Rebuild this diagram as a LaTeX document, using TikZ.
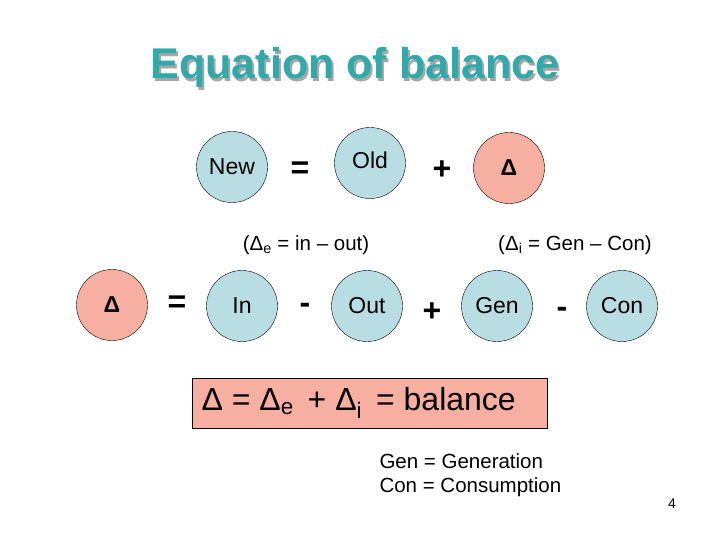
\documentclass[tikz,border=0pt]{standalone}
\usepackage{fontspec}
\setmainfont{Liberation Sans}
\begin{document}
\begin{tikzpicture}[x=1pt,y=-1pt,
  blue/.style={circle,draw=black,fill=cb,minimum size=71pt,inner sep=0pt,font=\fontsize{23}{25}\selectfont},
  pink/.style={circle,draw=black,fill=cp,minimum size=71pt,inner sep=0pt,font=\fontsize{23}{25}\selectfont},
  op/.style={font=\bfseries\fontsize{32}{34}\selectfont},
  lbl/.style={font=\fontsize{20.5}{23}\selectfont}]
\definecolor{cb}{HTML}{B8DDE2}
\definecolor{cp}{HTML}{F7AFA2}
\definecolor{tt}{HTML}{2FA9A9}
\useasboundingbox (0,0) rectangle (720,540);
\node[text=gray!70,font=\bfseries\fontsize{43}{46}\selectfont] (ts) at (357,70) {Equation of balance};
\node[text=tt,font=\bfseries\fontsize{43}{46}\selectfont] (t) at (355,67) {Equation of balance};
\node[blue] (new) at (232,167) {New};
\node[op] (eq1) at (300,170) {=};
\node[blue] (old) at (370,163) {Old\vphantom{p}};
\node[op] (pl1) at (442,170) {+};
\node[pink] (d1) at (509,168) {\textbf{Δ}};
\node[lbl] (le) at (306,245) {(Δ\textsubscript{e} = in – out)};
\node[lbl] (li) at (575,245) {(Δ\textsubscript{i} = Gen – Con)};
\node[pink] (d2) at (112,305) {\textbf{Δ}};
\node[op] (eq2) at (177,304) {=};
\node[blue] (in) at (242,306) {In};
\node[op] (mi1) at (305,308) {-};
\node[blue] (out) at (367,306) {Out};
\node[op] (pl2) at (432,312) {+};
\node[blue] (gen) at (497,306) {Gen};
\node[op] (mi2) at (562,312) {-};
\node[blue] (con) at (622,306) {Con};
\node[draw=black,fill=cp,minimum width=355pt,minimum height=50pt,inner sep=0pt] (bal) at (370,403) {};
\node[anchor=west,font=\fontsize{32}{34}\selectfont] (eqn) at (198,403) {Δ = Δ\textsubscript{e}\hspace{14pt}+ Δ\textsubscript{i}\hspace{14pt}= balance};
\node[anchor=north west,align=left,font=\fontsize{20.5}{24}\selectfont] (leg) at (376,450) {Gen = Generation\\Con = Consumption};
\node[font=\fontsize{14}{16}\selectfont] (pg) at (672,504) {4};
\end{tikzpicture}
\end{document}
